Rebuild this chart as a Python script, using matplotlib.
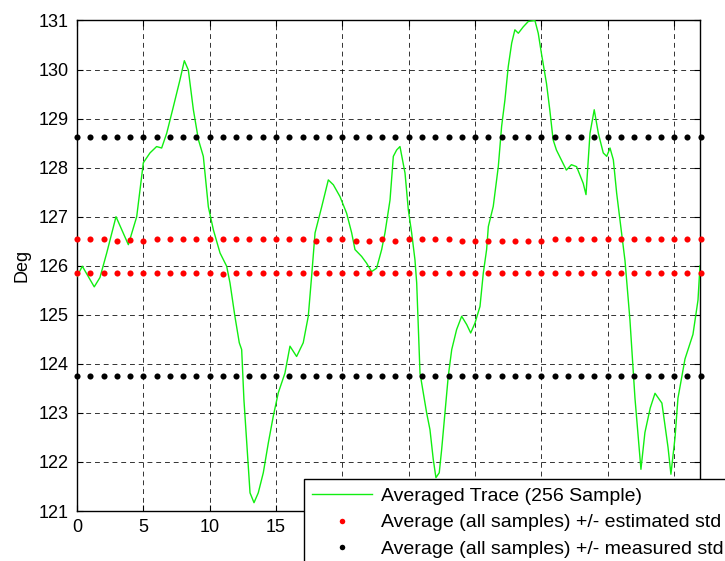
import numpy as np
import matplotlib.pyplot as plt

# averaged trace (time, degrees)
trace_t = [0, 0.4, 1.3, 1.73, 2.24, 2.94, 3.87, 4.5, 5.0, 5.5, 6.0, 6.38, 6.76,
           7.26, 7.76, 8.09, 8.39, 8.77, 9.15, 9.52, 9.9, 10.28, 10.78, 11.28,
           11.53, 11.9, 12.23, 12.41, 12.58, 12.79, 13.04, 13.34, 13.66, 14.04,
           14.42, 14.79, 15.17, 15.67, 16.05, 16.55, 17.05, 17.43, 17.68, 17.94,
           18.44, 18.94, 19.32, 19.82, 20.32, 20.7, 20.95, 21.45, 21.83, 22.2,
           22.58, 22.96, 23.21, 23.59, 23.84, 24.09, 24.34, 24.72, 24.97, 25.22,
           25.47, 25.6, 25.72, 25.85, 26.1, 26.35, 26.6, 26.85, 27.05, 27.3,
           27.48, 27.73, 27.98, 28.24, 28.61, 28.99, 29.37, 29.67, 29.99, 30.37,
           30.62, 30.87, 31.0, 31.37, 31.75, 32.0, 32.25, 32.5, 32.76, 33.0,
           33.26, 33.63, 34.01, 34.51, 34.76, 35.0, 35.38, 35.63, 35.88, 36.13,
           36.5, 36.88, 37.26, 37.65, 38.15, 38.36, 38.66, 38.98, 39.29, 39.66,
           39.92, 40.17, 40.42, 40.67, 41.3, 41.67, 42.05, 42.5, 42.8, 43.2,
           43.56, 44.08, 44.54, 44.76, 45.07, 45.29, 45.82, 46.42, 46.8, 46.95]
trace_deg = [125.78, 125.99, 125.57, 125.76, 126.26, 127.0, 126.43, 127.0,
             128.1, 128.3, 128.43, 128.4, 128.7, 129.24, 129.79, 130.18, 129.99,
             129.18, 128.57, 128.23, 127.2, 126.73, 126.26, 125.99, 125.65,
             124.97, 124.43, 124.29, 123.27, 122.39, 121.37, 121.17, 121.37,
             121.78, 122.39, 122.93, 123.41, 123.81, 124.36, 124.15, 124.43,
             124.97, 125.78, 126.67, 127.2, 127.75, 127.65, 127.41, 127.07,
             126.67, 126.33, 126.19, 126.05, 125.88, 125.95, 126.33, 126.67,
             127.34, 128.23, 128.36, 128.43, 127.89, 127.14, 126.67, 126.12,
             125.65, 124.76, 123.81, 123.41, 123.0, 122.66, 122.05, 121.68,
             121.78, 122.25, 123.0, 123.75, 124.29, 124.7, 124.97, 124.8, 124.63,
             124.83, 125.17, 125.85, 126.33, 126.8, 127.21, 128.02, 128.84,
             129.38, 130.06, 130.54, 130.81, 130.74, 130.87, 130.98, 131.0,
             130.74, 130.33, 129.72, 129.18, 128.57, 128.36, 128.16, 127.95,
             128.06, 128.02, 127.68, 127.45, 128.7, 129.18, 128.7, 128.3, 128.23,
             128.4, 128.16, 127.48, 126.1, 124.9, 123.3, 121.85, 122.6, 123.1,
             123.4, 123.2, 122.3, 121.75, 122.5, 123.3, 124.1, 124.6, 125.3, 126.0]

# one marker per second
std_t = list(range(48))
est_upper = [126.54, 126.54, 126.54, 126.51, 126.53, 126.51, 126.54, 126.54,
             126.54, 126.54, 126.54, 126.54, 126.54, 126.54, 126.54, 126.54,
             126.54, 126.54, 126.51, 126.54, 126.54, 126.51, 126.51, 126.54,
             126.51, 126.54, 126.54, 126.54, 126.54, 126.51, 126.51, 126.51,
             126.51, 126.51, 126.51, 126.51, 126.54, 126.54, 126.54, 126.54,
             126.54, 126.54, 126.54, 126.54, 126.54, 126.54, 126.54, 126.54]
est_lower = [125.86] * 11 + [125.83] + [125.86] * 36
meas_upper = [128.63] * 48
meas_lower = [123.76] * 48

plt.rcParams['font.family'] = ['Liberation Sans', 'DejaVu Sans']

fig = plt.figure(figsize=(7.25, 5.61), dpi=100)
ax = fig.add_axes([0.1062, 0.0891, 0.8593, 0.8744])

ax.plot(trace_t, trace_deg, color='#11ee11', lw=1.0,
        label='Averaged Trace (256 Sample)', zorder=3)
ax.plot(std_t, est_upper, 'o', color='#ff0000', ms=4.4, mec='none',
        label='Average (all samples) +/- estimated std', zorder=4, clip_on=False)
ax.plot(std_t, est_lower, 'o', color='#ff0000', ms=4.4, mec='none', zorder=4,
        clip_on=False)
ax.plot(std_t, meas_upper, 'o', color='black', ms=4.4, mec='none',
        label='Average (all samples) +/- measured std', zorder=4, clip_on=False)
ax.plot(std_t, meas_lower, 'o', color='black', ms=4.4, mec='none', zorder=4,
        clip_on=False)

ax.set_xlim(0, 46.95)
ax.set_ylim(121, 131)
ax.set_xticks(np.arange(0, 50, 5))
ax.set_yticks(np.arange(121, 132, 1))
ax.grid(True, color='black', linestyle=(0, (5, 4)), linewidth=0.7, alpha=0.8)
ax.tick_params(direction='in', length=4, top=True, right=True, labelsize=13,
               pad=6)
for s in ax.spines.values():
    s.set_linewidth(1.0)
ax.set_ylabel('Deg', fontsize=13, labelpad=6)

# legend sits low and runs off the lower right edge of the figure
leg = ax.legend(loc='upper left', bbox_to_anchor=(304 / 725, 1 - 479 / 561),
                bbox_transform=fig.transFigure, fontsize=14, frameon=True,
                fancybox=False, edgecolor='black', framealpha=1,
                handlelength=3.1, handletextpad=0.42, borderpad=0.42,
                labelspacing=0.46, borderaxespad=0, markerscale=0.9)
leg.get_frame().set_linewidth(1.0)
leg.set_zorder(10)

fig.savefig('out.png', dpi=100)
